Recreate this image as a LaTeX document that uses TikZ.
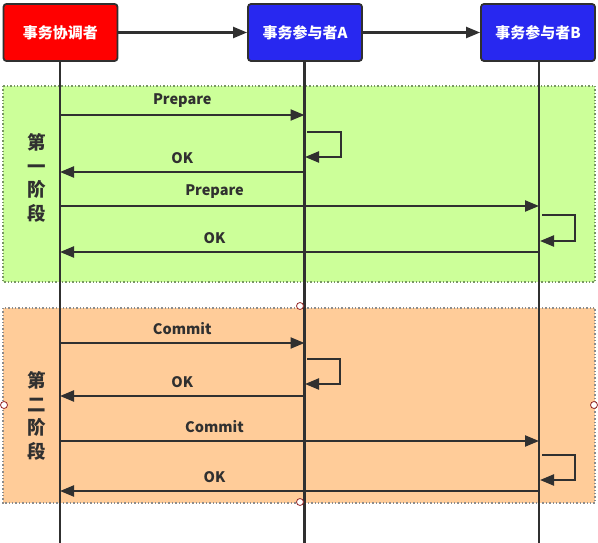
\documentclass[tikz,border=0pt]{standalone}
\usepackage{fontspec}
\setmainfont{Noto Sans CJK SC}
\usetikzlibrary{arrows.meta}
\definecolor{lineC}{RGB}{48,48,48}
\definecolor{redF}{RGB}{255,0,0}
\definecolor{blueF}{RGB}{40,40,240}
\definecolor{greenF}{RGB}{204,255,153}
\definecolor{orangeF}{RGB}{255,204,153}
\definecolor{handleC}{RGB}{150,40,40}
\definecolor{dotG}{RGB}{120,150,100}
\definecolor{dotO}{RGB}{140,140,140}
\tikzset{
  actor/.style={draw=lineC, line width=1.8pt, rounded corners=3pt, minimum width=114pt, minimum height=57pt, inner sep=0pt, text=white, font=\bfseries\fontsize{15}{17}\selectfont},
  life/.style={draw=lineC, line width=2.2pt},
  msg/.style={draw=lineC, line width=2.2pt, -{Triangle[length=14pt,width=11pt]}},
  lbl/.style={text=lineC, font=\bfseries\fontsize{14.5}{17}\selectfont, inner sep=0pt},
  phase/.style={text=lineC, font=\bfseries\fontsize{18.5}{23.5}\selectfont, align=center, inner sep=0pt},
  handle/.style={circle, draw=handleC, fill=white, line width=0.8pt, minimum size=7pt, inner sep=0pt}
}
\begin{document}
\begin{tikzpicture}[x=1pt,y=-1pt]
\useasboundingbox (0,0) rectangle (598,543);
% phase backgrounds
\fill[greenF] (3,86) rectangle (595,282);
\draw[draw=dotG, line width=1.4pt, dotted] (3,86) rectangle (595,282);
\fill[orangeF] (3,308) rectangle (595,503);
\draw[draw=dotO, line width=1.4pt, dotted] (3,308) rectangle (595,503);
% actors
\node[actor, fill=redF] (C) at (60.5,32.5) {事务协调者};
\node[actor, fill=blueF] (A) at (305,32.5) {事务参与者A};
\node[actor, fill=blueF] (B) at (538,32.5) {事务参与者B};
\draw[msg] (C.east) -- (A.west);
\draw[msg] (A.east) -- (B.west);
% lifelines
\coordinate (Cend) at (60,543);
\coordinate (Aend) at (304.5,543);
\coordinate (Bend) at (539,543);
\draw[life] (C.south -| Cend) -- (Cend);
\draw[life] (A.south -| Aend) -- (Aend);
\draw[life] (B.south -| Bend) -- (Bend);
% phase labels
\node[phase] (P1) at (37,178) {第\\一\\阶\\段};
\node[phase] (P2) at (37,416) {第\\二\\阶\\段};
% phase 1
\coordinate (c1) at (60,115); \coordinate (a1) at (304.5,115);
\draw[msg] (c1) -- node[lbl, above=6pt] (L1) {Prepare} (a1);
\coordinate (a2s) at (307,132); \coordinate (a2e) at (305,157);
\draw[msg] (a2s) -- (341,132) |- (a2e);
\coordinate (a3) at (304.5,172); \coordinate (c3) at (60,172);
\draw[msg] (a3) -- node[lbl, above=7pt] (L2) {OK} (c3);
\coordinate (c4) at (60,206); \coordinate (b4) at (539,206);
\draw[msg] (c4) -- node[lbl, above=6pt, xshift=-85pt] (L3) {Prepare} (b4);
\coordinate (b5s) at (542,215); \coordinate (b5e) at (540,241);
\draw[msg] (b5s) -- (575,215) |- (b5e);
\coordinate (b6) at (539,252); \coordinate (c6) at (60,252);
\draw[msg] (b6) -- node[lbl, above=7pt, xshift=-85pt] (L4) {OK} (c6);
% phase 2
\coordinate (c7) at (60,343); \coordinate (a7) at (304.5,343);
\draw[msg] (c7) -- node[lbl, above=7pt] (L5) {Commit} (a7);
\coordinate (a8s) at (307,359); \coordinate (a8e) at (305,384);
\draw[msg] (a8s) -- (340,359) |- (a8e);
\coordinate (a9) at (304.5,396); \coordinate (c9) at (60,396);
\draw[msg] (a9) -- node[lbl, above=7pt] (L6) {OK} (c9);
\coordinate (c10) at (60,441); \coordinate (b10) at (539,441);
\draw[msg] (c10) -- node[lbl, above=7pt, xshift=-85pt] (L7) {Commit} (b10);
\coordinate (b11s) at (542,455); \coordinate (b11e) at (540,480);
\draw[msg] (b11s) -- (575,455) |- (b11e);
\coordinate (b12) at (539,491); \coordinate (c12) at (60,491);
\draw[msg] (b12) -- node[lbl, above=7pt, xshift=-85pt] (L8) {OK} (c12);
% selection handles
\node[handle] (h1) at (300,306) {};
\node[handle] (h2) at (300,502) {};
\node[handle] (h3) at (4,405) {};
\node[handle] (h4) at (594,405) {};
\end{tikzpicture}
\end{document}
